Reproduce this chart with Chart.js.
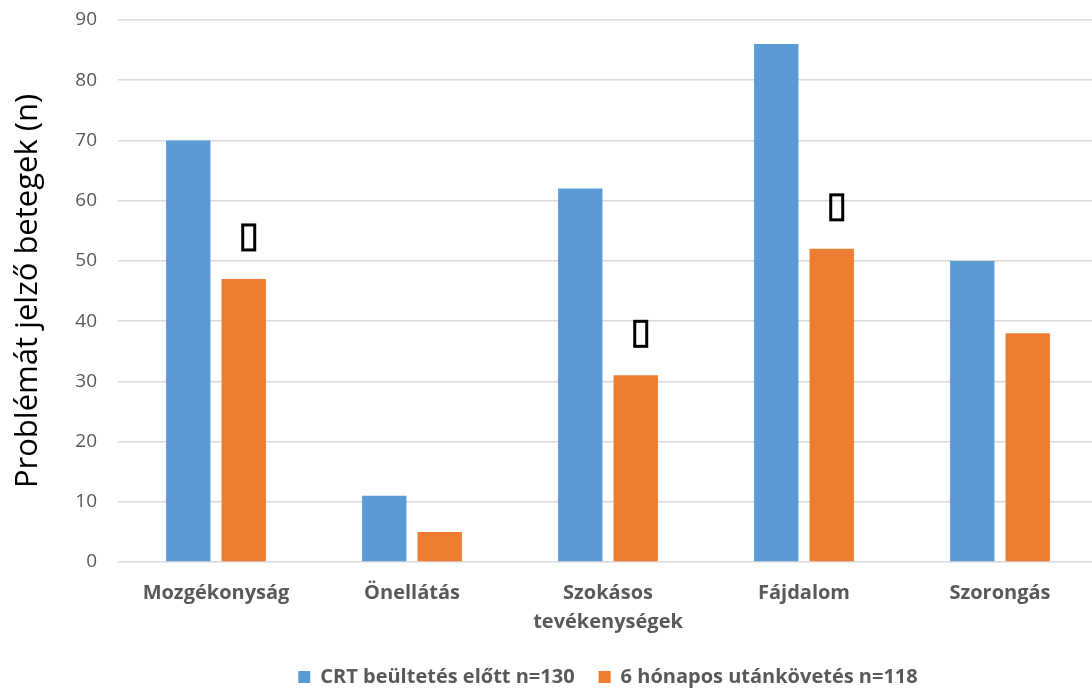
<!DOCTYPE html>
<html lang="hu">
<head>
<meta charset="utf-8">
<title>Problémát jelző betegek</title>
<script src="https://cdn.jsdelivr.net/npm/chart.js@4.4.1/dist/chart.umd.min.js"></script>
<style>
    html, body { margin: 0; padding: 0; background: #fff; overflow: hidden; }
    #wrap { width: 1100px; height: 688px; position: relative; }
</style>
</head>
<body>
<div id="wrap"><canvas id="betegekChart"></canvas></div>
<script>
// Kategóriák és értékek
const kategoriak = ['Mozgékonyság', 'Önellátás', ['Szokásos', 'tevékenységek'], 'Fájdalom', 'Szorongás'];
const elotte = [70, 11, 62, 86, 50];
const utana = [47, 5, 31, 52, 38];
const szignifikans = [true, false, true, true, false];
const yTickek = [0, 10, 20, 30, 40, 50, 60, 70, 80, 90];

const szurke = '#595959';
const betu = '"Open Sans", Lato, sans-serif';

// jelölés a szignifikáns változás fölött
const jelolesPlugin = {
    id: 'jeloles',
    afterDatasetsDraw(chart) {
        const ctx = chart.ctx;
        const meta = chart.getDatasetMeta(1);
        ctx.save();
        ctx.strokeStyle = '#000';
        ctx.lineWidth = 3;
        meta.data.forEach((bar, i) => {
            if (!szignifikans[i]) return;
            const w = 12, h = 25;
            const cx = bar.x + 5;
            const bottom = bar.y - 29;
            ctx.strokeRect(cx - w / 2, bottom - h, w, h);
        });
        ctx.restore();
    }
};

new Chart(document.getElementById('betegekChart').getContext('2d'), {
    type: 'bar',
    data: {
        labels: kategoriak,
        datasets: [
            {
                label: 'CRT beültetés előtt n=130',
                data: elotte,
                backgroundColor: '#5B9BD5',
                categoryPercentage: 0.566,
                barPercentage: 0.8
            },
            {
                label: '6 hónapos utánkövetés n=118',
                data: utana,
                backgroundColor: '#ED7D31',
                categoryPercentage: 0.566,
                barPercentage: 0.8
            }
        ]
    },
    options: {
        responsive: true,
        maintainAspectRatio: false,
        animation: false,
        layout: { padding: { top: 20, right: 2, left: 0, bottom: -9 } },
        plugins: {
            legend: {
                position: 'bottom',
                fullSize: false,
                labels: {
                    boxWidth: 12,
                    boxHeight: 12,
                    padding: 24,
                    color: szurke,
                    font: { family: betu, size: 20, weight: 'bold' }
                }
            },
            tooltip: { enabled: false }
        },
        scales: {
            x: {
                grid: { display: false },
                border: { display: false },
                ticks: {
                    color: szurke,
                    padding: 9,
                    maxRotation: 0,
                    autoSkip: false,
                    font: { family: betu, size: 20, weight: 'bold', lineHeight: 1.45 }
                },
                afterFit(scale) { scale.height = 81; }
            },
            y: {
                min: 0,
                max: 90,
                afterBuildTicks(scale) { scale.ticks = yTickek.map(v => ({ value: v })); },
                grid: { color: '#d9d9d9', lineWidth: 1.5, drawTicks: false },
                border: { display: false },
                ticks: {
                    color: szurke,
                    padding: 21,
                    font: { family: betu, size: 19 }
                },
                title: {
                    display: true,
                    text: 'Problémát jelző betegek (n)',
                    color: '#000',
                    padding: { top: 10, bottom: 0 },
                    font: { family: betu, size: 31 }
                },
                afterFit(scale) {
                    scale.width = 118;
                    scale.paddingTop = 0;
                    scale.paddingBottom = 0;
                }
            }
        }
    },
    plugins: [jelolesPlugin]
});
</script>
</body>
</html>
